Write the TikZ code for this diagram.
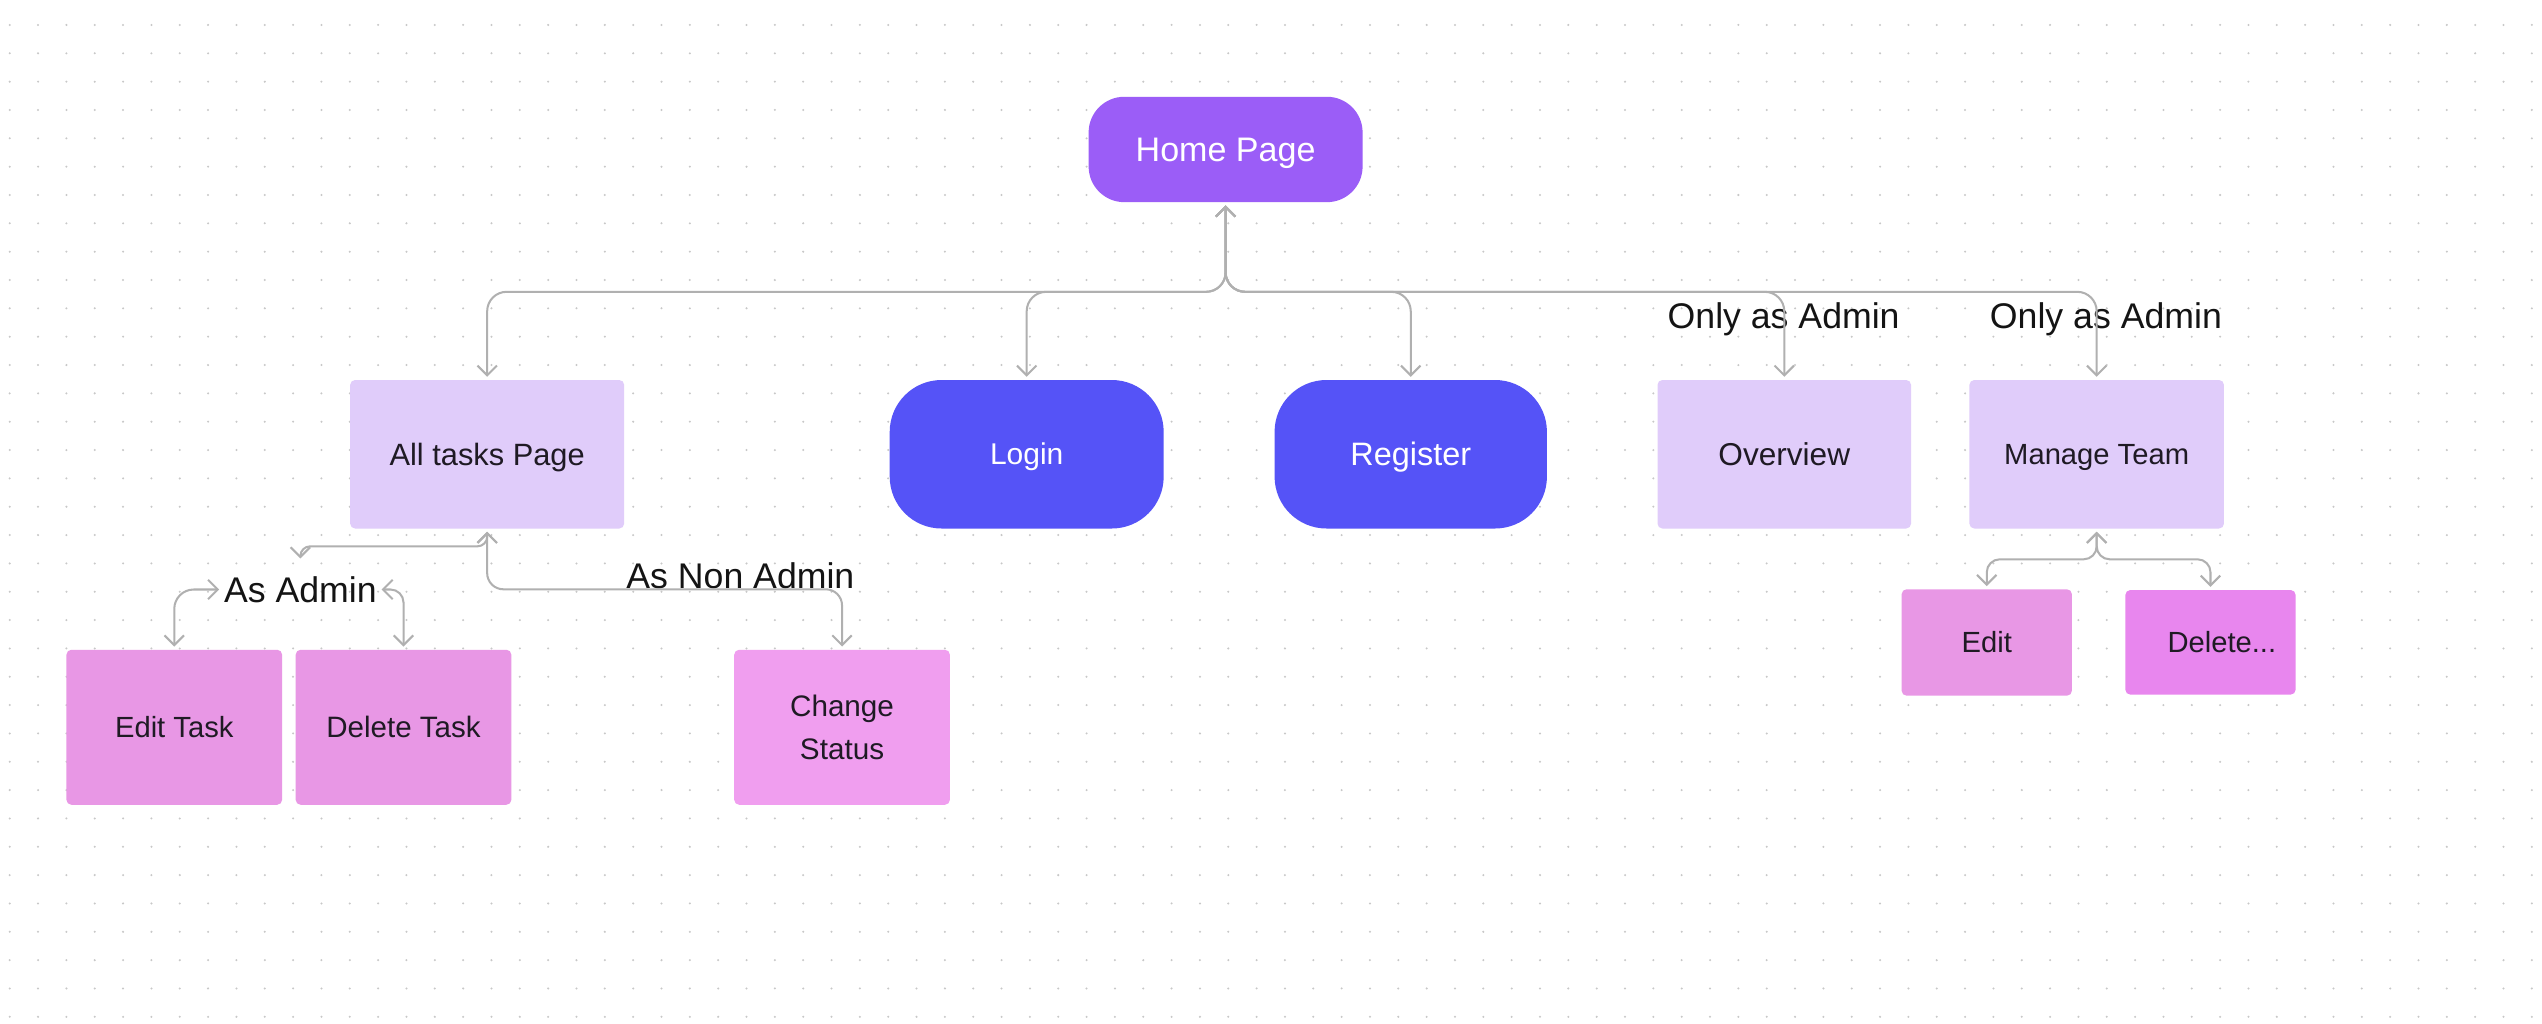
\documentclass[tikz,border=0pt]{standalone}
\usepackage{fontspec}
\setmainfont{Liberation Sans}
\usetikzlibrary{arrows.meta}
\definecolor{homec}{HTML}{9B5DF7}
\definecolor{authc}{HTML}{5553F7}
\definecolor{lavc}{HTML}{E0CCFA}
\definecolor{pinkc}{HTML}{E897E5}
\definecolor{pinklc}{HTML}{F09EEF}
\definecolor{pinkdc}{HTML}{E886EE}
\definecolor{linec}{HTML}{B0B0B0}
\definecolor{dotc}{HTML}{C8C8C8}
\definecolor{txtc}{HTML}{1F1A24}
\tikzset{brb/.tip={Straight Barb[length=6pt,width=12pt]}}
\begin{document}
\begin{tikzpicture}[x=1pt,y=-1pt,
  base/.style={inner sep=0pt, outer sep=2pt, align=center, text=txtc},
  cap/.style={text height=#1, text depth=0pt},
  fs/.style={font=\fontsize{#1}{26}\selectfont},
  hub/.style={base, minimum width=169pt, minimum height=65pt, rounded corners=22pt, fill=homec, text=white, fs=21, cap=15pt},
  auth/.style={base, minimum width=169pt, minimum height=91.6pt, rounded corners=32pt, fill=authc, text=white},
  pagebox/.style={base, minimum width=169pt, minimum height=91.6pt, rounded corners=3pt, fill=lavc},
  pinkbox/.style={base, minimum width=133pt, minimum height=95.6pt, rounded corners=3pt, fill=pinkc},
  lbl/.style={inner xsep=3pt, inner ysep=0pt, outer sep=0pt, text=black!92, font=\fontsize{22}{26}\selectfont, text height=15.75pt, text depth=0pt},
  conn/.style={draw=linec, line width=1.25pt, rounded corners=#1, {brb}-{brb}},
  conn/.default=12pt
]
\useasboundingbox (0,0) rectangle (1568,631.6);
\fill[white] (0,0) rectangle (1568,631.6);
\foreach \i in {0,...,89}{
  \foreach \j in {0,...,35}{
    \fill[dotc] ({6+17.48*\i},{15.4+17.48*\j}) circle (0.7);
  }
}
% nodes
\node[hub] (home) at (756,92.2) {Home Page};
\node[pagebox, fs=19, cap=13.6pt] (all) at (300.5,280.2) {All tasks Page};
\node[auth, fs=18.5, cap=13.2pt] (login) at (633.3,280.2) {Login};
\node[auth, minimum width=168pt, fs=20, cap=14.3pt] (register) at (870.2,280.2) {Register};
\node[pagebox, minimum width=156.4pt, fs=19.5, cap=14pt] (overview) at (1100.6,280.2) {Overview};
\node[pagebox, minimum width=157pt, fs=18, cap=12.9pt] (manage) at (1293.3,280.2) {Manage Team};
\node[pinkbox, fs=18, cap=12.9pt] (edittask) at (107.5,448.6) {Edit Task};
\node[pinkbox, fs=18.2, cap=13pt] (deletetask) at (248.9,448.6) {Delete Task};
\node[pinkbox, fill=pinklc, font=\fontsize{18.3}{26.8}\selectfont] (change) at (519.4,448.6) {Change\\Status};
\node[pinkbox, minimum width=105pt, minimum height=65.6pt, fs=18, cap=12.9pt] (edit) at (1225.5,396.3) {Edit};
\node[pinkbox, fill=pinkdc, minimum width=105pt, minimum height=64.5pt, fs=18, cap=12.9pt] (delete) at (1363.5,396.2) {\hspace*{14pt}Delete...};
% labels
\node[lbl, anchor=base] (asadmin) at (185.3,371.5) {As Admin};
\node[lbl, anchor=base] (asnon) at (456.7,362.9) {As Non Admin};
\node[lbl, anchor=base] (only1) at (1100.2,202.5) {Only as Admin};
\node[lbl, anchor=base] (only2) at (1299,202.5) {Only as Admin};
% levels
\coordinate (bus) at (0,180);
\coordinate (lvlA) at (0,337);
\coordinate (lvlB) at (0,363.5);
\coordinate (lvlC) at (0,345);
% connectors
\draw[conn] (home.south) |- (all.north |- bus) -- (all.north);
\draw[conn] (home.south) |- (login.north |- bus) -- (login.north);
\draw[conn] (home.south) |- (register.north |- bus) -- (register.north);
\draw[conn] (home.south) |- (overview.north |- bus) -- (overview.north);
\draw[conn] (home.south) |- (manage.north |- bus) -- (manage.north);
\draw[conn=6pt, shorten >=11.3pt] (all.south) |- (asadmin.north |- lvlA) -- (asadmin.north);
\draw[conn=12pt] (asadmin.west) -| (edittask.north);
\draw[conn=8pt] (asadmin.east) -| (deletetask.north);
\draw[conn=10pt] (all.south) |- (change.north |- lvlB) -- (change.north);
\draw[conn=8pt] (manage.south) |- (edit.north |- lvlC) -- (edit.north);
\draw[conn=8pt] (manage.south) |- (delete.north |- lvlC) -- (delete.north);
\end{tikzpicture}
\end{document}
